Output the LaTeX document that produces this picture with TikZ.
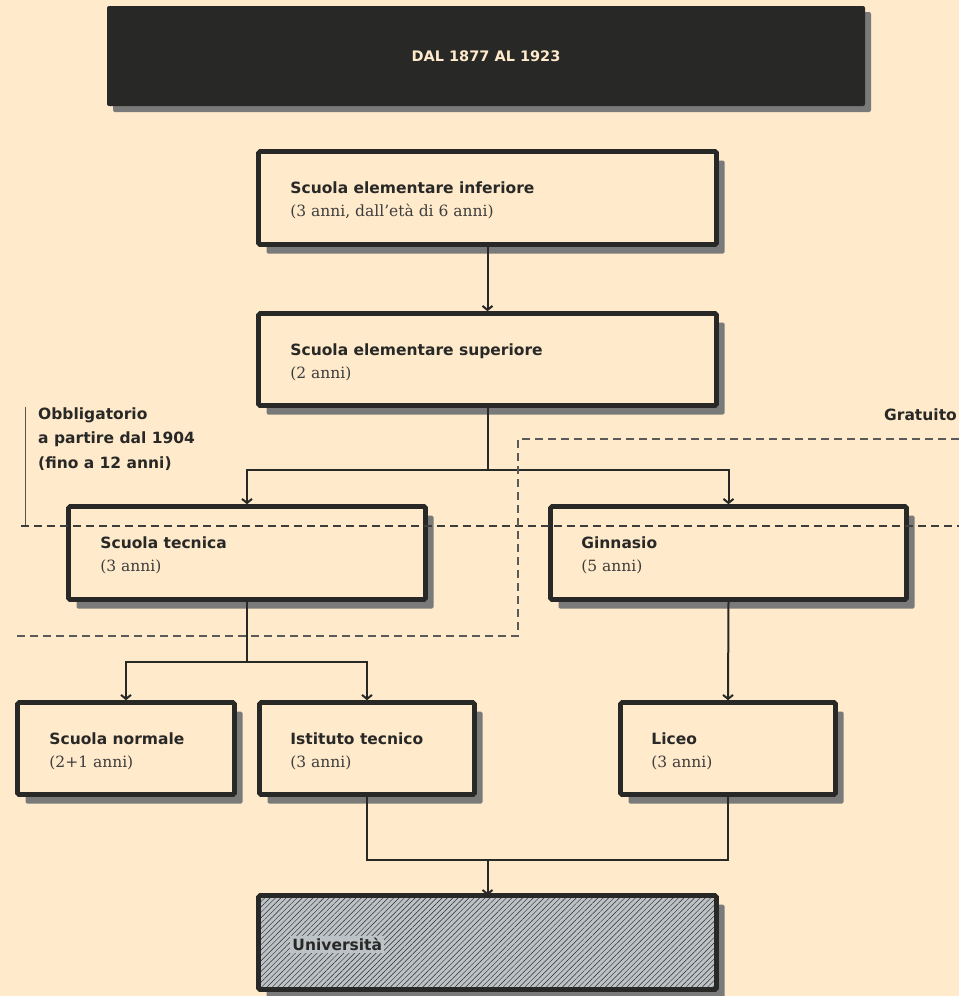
\documentclass[tikz,border=0pt]{standalone}
\usepackage{fontspec}
\setmainfont{DejaVu Serif}
\setsansfont{DejaVu Sans}
\usetikzlibrary{arrows.meta,shadows,patterns.meta,calc}
\definecolor{bg}{HTML}{FFEACB}
\definecolor{ink}{HTML}{282826}
\definecolor{shd}{HTML}{7A7A7A}
\definecolor{unic}{HTML}{BCC2C6}
\definecolor{dashc}{HTML}{5A5A58}
\begin{document}
\begin{tikzpicture}[x=1pt,y=-1pt,
  hdr/.style={fill=ink, rounded corners=2pt, minimum width=758pt, minimum height=100pt, inner sep=0pt,
    drop shadow={shadow xshift=6pt, shadow yshift=-6pt, fill=shd, opacity=1},
    text=bg, font=\sffamily\bfseries\fontsize{14.5}{16}\selectfont},
  box/.style={draw=ink, line width=4.6pt, fill=bg, rounded corners=1.5pt, inner sep=0pt,
    drop shadow={shadow xshift=8pt, shadow yshift=-9pt, fill=shd, opacity=1}},
  ttl/.style={anchor=base west, inner sep=0pt, text=ink, font=\sffamily\bfseries\fontsize{15.5}{18}\selectfont},
  subt/.style={anchor=base west, inner sep=0pt, text=ink!90, font=\fontsize{15.5}{18}\selectfont},
  conn/.style={draw=ink, line width=2pt},
  arr/.style={conn, -{Straight Barb[length=4pt,width=10pt]}},
  dashA/.style={draw=ink!90, line width=1.2pt, dash pattern=on 8pt off 5pt},
  dashB/.style={draw=dashc, line width=1.2pt, dash pattern=on 8pt off 5pt},
]
\useasboundingbox (0,0) rectangle (959,996);
\fill[bg] (0,0) rectangle (959,996);

% header
\node[hdr] (hdr) at (486,56) {DAL 1877 AL 1923};

% boxes
\node[box, minimum width=458pt, minimum height=93pt] (inf) at (487.5,198) {};
\node[box, minimum width=458pt, minimum height=92pt] (sup) at (487.5,359.5) {};
\node[box, minimum width=357pt, minimum height=93pt] (tec) at (247,553) {};
\node[box, minimum width=356pt, minimum height=93pt] (gin) at (728.5,553) {};
\node[box, minimum width=217pt, minimum height=92pt] (nor) at (126,748.5) {};
\node[box, minimum width=215pt, minimum height=92pt] (ist) at (367,748.5) {};
\node[box, minimum width=215pt, minimum height=92pt] (lic) at (728,748.5) {};
\node[box, minimum width=458pt, minimum height=94pt, preaction={fill=unic},
  pattern={Lines[angle=45,distance=3.8pt,line width=0.45pt]}, pattern color=ink] (uni) at (487.5,942.5) {};

% texts
\node[ttl] (inf-t) at ([shift={(34,44)}]inf.north west) {Scuola elementare inferiore};
\node[subt] (inf-s) at ([shift={(34,67)}]inf.north west) {(3 anni, dall’età di 6 anni)};
\node[ttl] (sup-t) at ([shift={(34,44)}]sup.north west) {Scuola elementare superiore};
\node[subt] (sup-s) at ([shift={(34,67)}]sup.north west) {(2 anni)};
\node[ttl] (tec-t) at ([shift={(34,44)}]tec.north west) {Scuola tecnica};
\node[subt] (tec-s) at ([shift={(34,67)}]tec.north west) {(3 anni)};
\node[ttl] (gin-t) at ([shift={(33,44)}]gin.north west) {Ginnasio};
\node[subt] (gin-s) at ([shift={(33,67)}]gin.north west) {(5 anni)};
\node[ttl] (nor-t) at ([shift={(34,44)}]nor.north west) {Scuola normale};
\node[subt] (nor-s) at ([shift={(34,67)}]nor.north west) {(2+1 anni)};
\node[ttl] (ist-t) at ([shift={(33,44)}]ist.north west) {Istituto tecnico};
\node[subt] (ist-s) at ([shift={(33,67)}]ist.north west) {(3 anni)};
\node[ttl] (lic-t) at ([shift={(33,44)}]lic.north west) {Liceo};
\node[subt] (lic-s) at ([shift={(33,67)}]lic.north west) {(3 anni)};
\node[ttl, fill=unic, inner sep=2pt] (uni-t) at ([shift={(32,55)}]uni.north west) {Università};

% connectors
\coordinate (j1) at (sup.south |- 0,470);
\coordinate (j2) at (tec.south |- 0,662);
\coordinate (j3) at (487.5,860);
\draw[arr] (inf.south) -- (sup.north);
\draw[conn] (sup.south) -- (j1);
\draw[arr] (j1) -| (tec.north);
\draw[arr] (j1) -| (gin.north);
\draw[conn] (tec.south) -- (j2);
\draw[arr] (j2) -| (nor.north);
\draw[arr] (j2) -| (ist.north);
\draw[arr] (gin.south) -- (lic.north);
\draw[conn] (ist.south) |- (j3) -| (lic.south);
\draw[arr] (j3) -- (uni.north);

% annotations
\node[ttl] (obl1) at (38,419) {Obbligatorio};
\node[ttl] (obl2) at (38,443.5) {a partire dal 1904};
\node[ttl] (obl3) at (38,468) {(fino a 12 anni)};
\node[ttl, anchor=base east] (grat) at (957,420) {Gratuito};

\coordinate (barTop) at (25,407);
\coordinate (barBot) at (25,526);
\coordinate (dL) at (21,526);
\coordinate (dR) at (959,526);
\draw[draw=ink!80, line width=0.9pt] (barTop) -- (barBot);
\draw[dashA] (dL) -- (dR);

\coordinate (gA) at (959,439);
\coordinate (gB) at (518,439);
\coordinate (gC) at (518,636);
\coordinate (gD) at (17,636);
\draw[dashB] (gA) -- (gB) -- (gC) -- (gD);
\end{tikzpicture}
\end{document}
